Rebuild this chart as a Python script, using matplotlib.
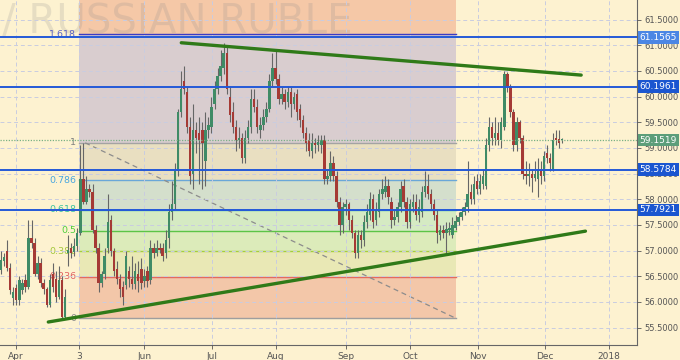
import numpy as np
import matplotlib
matplotlib.use("agg")
import matplotlib.pyplot as plt
import matplotlib.transforms as mtransforms

# daily USD/RUB candles, one per trading day (x = candle index)
opens = [
    56.62, 56.80, 57.00, 56.66, 56.08, 56.27, 56.04, 56.23, 56.43, 56.30,
    57.25, 57.15, 56.55, 56.75, 56.37, 56.25, 55.95, 56.55, 56.45, 56.10,
    56.43, 55.70, 56.95, 57.05, 56.98, 57.10, 57.35, 58.40, 57.95, 58.20,
    58.15, 57.40, 57.05, 56.37, 56.55, 57.05, 57.60, 57.00, 56.65, 56.45,
    56.30, 56.33, 56.60, 56.45, 56.35, 56.55, 56.65, 56.40, 56.60, 56.42,
    57.05, 56.95, 57.05, 57.05, 56.95, 57.25, 57.75, 57.90, 58.55, 59.70,
    60.30, 60.10, 59.40, 58.50, 59.35, 59.30, 59.35, 58.75, 59.35, 59.40,
    59.85, 60.15, 60.40, 60.55, 60.85, 60.00, 59.70, 59.40, 59.15, 59.20,
    58.80, 59.20, 59.40, 59.95, 59.80, 59.35, 59.45, 59.60, 59.75, 60.30,
    60.55, 60.35, 59.95, 60.05, 59.90, 60.10, 59.85, 60.05, 59.75, 59.55,
    59.30, 59.15, 58.95, 59.10, 59.05, 59.05, 59.15, 58.40, 58.45, 58.70,
    58.45, 57.95, 57.50, 57.85, 57.90, 57.60, 57.35, 56.95, 57.30, 57.20,
    57.55, 57.70, 58.00, 57.60, 57.75, 58.10, 58.15, 58.25, 57.95, 57.60,
    57.65, 57.85, 58.25, 57.95, 57.55, 57.85, 57.95, 57.70, 57.75, 58.15,
    58.25, 58.10, 57.90, 57.70, 57.30, 57.40, 57.35, 57.40, 57.30, 57.45,
    57.55, 57.65, 57.75, 57.85, 58.15, 58.00, 58.35, 58.20, 58.30, 58.25,
    59.05, 59.40, 59.20, 59.30, 59.15, 59.40, 60.45, 60.20, 59.70, 59.05,
    59.50, 59.20, 58.50, 58.45, 58.50, 58.42, 58.40, 58.60, 58.45, 58.90,
    58.80, 58.60, 59.20, 59.18, 59.15,
]
highs = [
    57.00, 56.95, 57.20, 56.75, 56.30, 56.35, 56.50, 56.45, 56.55, 57.60,
    57.60, 57.25, 56.90, 56.85, 56.45, 56.30, 56.55, 56.75, 56.60, 56.70,
    56.50, 56.25, 57.30, 57.15, 57.25, 57.45, 59.05, 59.10, 58.45, 58.30,
    58.30, 57.50, 57.15, 56.60, 57.05, 58.10, 57.70, 57.05, 56.80, 56.55,
    56.40, 57.00, 56.70, 56.90, 56.75, 56.80, 56.85, 56.65, 56.70, 57.20,
    57.15, 57.20, 57.15, 57.15, 57.40, 57.90, 58.35, 58.70, 59.75, 60.50,
    60.60, 60.20, 59.60, 59.85, 59.50, 59.60, 59.50, 59.70, 59.60, 60.00,
    60.30, 60.55, 60.90, 61.05, 61.00, 60.20, 59.90, 59.55, 59.40, 59.30,
    59.35, 59.55, 60.15, 60.15, 59.95, 59.60, 59.75, 59.90, 60.45, 60.85,
    60.90, 60.45, 60.20, 60.15, 60.20, 60.20, 60.10, 60.15, 59.85, 59.65,
    59.40, 59.30, 59.30, 59.20, 59.25, 59.25, 59.25, 58.60, 58.95, 58.85,
    58.55, 58.05, 57.95, 58.00, 57.95, 57.70, 57.40, 57.40, 57.40, 57.70,
    57.90, 58.15, 58.10, 57.95, 58.20, 58.40, 58.45, 58.40, 58.05, 57.80,
    57.95, 58.35, 58.40, 58.05, 58.00, 58.10, 58.10, 58.00, 58.25, 58.55,
    58.50, 58.20, 58.00, 57.80, 57.50, 57.50, 57.55, 57.55, 57.65, 57.70,
    57.75, 57.85, 57.95, 58.75, 58.30, 58.45, 58.50, 58.50, 58.60, 59.20,
    59.60, 59.50, 59.60, 59.50, 59.60, 60.50, 60.48, 60.25, 59.75, 59.60,
    59.55, 59.25, 58.75, 58.70, 58.60, 58.75, 58.80, 58.75, 58.95, 59.05,
    58.90, 59.30, 59.35, 59.35, 59.20,
]
lows = [
    56.55, 56.70, 56.60, 56.15, 55.95, 55.95, 55.95, 56.15, 56.20, 56.25,
    57.05, 56.50, 56.45, 56.30, 56.15, 55.90, 55.90, 56.20, 56.00, 56.05,
    55.65, 55.68, 56.70, 56.85, 56.90, 57.00, 57.30, 57.90, 57.90, 58.05,
    57.35, 56.95, 56.20, 56.30, 56.45, 56.95, 56.90, 56.50, 56.35, 56.10,
    55.95, 56.25, 56.30, 56.25, 56.25, 56.20, 56.25, 56.30, 56.30, 56.35,
    56.85, 56.90, 56.95, 56.80, 56.85, 57.05, 57.60, 57.80, 58.45, 59.60,
    60.05, 59.30, 58.30, 58.20, 58.90, 58.30, 58.20, 58.25, 59.20, 59.30,
    59.75, 60.05, 60.30, 60.45, 60.05, 59.50, 59.30, 58.95, 59.00, 58.70,
    58.70, 59.10, 59.30, 59.70, 59.30, 59.20, 59.35, 59.50, 59.70, 60.20,
    60.25, 59.85, 59.85, 59.75, 59.80, 59.60, 59.75, 59.55, 59.40, 59.20,
    58.95, 58.85, 58.80, 58.90, 58.95, 58.90, 58.30, 58.30, 58.35, 58.35,
    57.85, 57.30, 57.35, 57.70, 57.40, 57.25, 56.85, 56.85, 57.05, 57.10,
    57.45, 57.60, 57.45, 57.50, 57.65, 58.00, 58.05, 57.90, 57.45, 57.50,
    57.55, 57.75, 57.85, 57.45, 57.45, 57.75, 57.60, 57.55, 57.65, 58.05,
    58.00, 57.80, 57.60, 57.15, 57.20, 57.25, 56.95, 57.30, 57.25, 57.40,
    57.50, 57.60, 57.70, 57.75, 57.90, 57.90, 58.10, 58.10, 58.20, 58.20,
    58.95, 59.05, 59.05, 59.05, 59.00, 59.35, 60.10, 59.60, 58.95, 58.95,
    59.10, 58.40, 58.30, 58.25, 58.15, 58.35, 58.05, 58.30, 58.35, 58.70,
    58.55, 58.55, 59.05, 59.00, 59.10,
]
closes = [
    56.82, 56.88, 56.66, 56.23, 56.20, 56.04, 56.43, 56.37, 56.30, 57.25,
    57.15, 56.55, 56.75, 56.37, 56.25, 55.95, 56.43, 56.30, 56.10, 56.43,
    55.70, 56.10, 57.02, 56.95, 57.10, 57.35, 58.40, 57.95, 58.20, 58.15,
    57.40, 57.05, 56.37, 56.55, 56.90, 57.55, 57.00, 56.60, 56.45, 56.25,
    56.10, 56.90, 56.45, 56.35, 56.60, 56.40, 56.37, 56.50, 56.40, 57.05,
    56.95, 57.05, 57.02, 56.90, 57.20, 57.75, 57.90, 58.55, 59.70, 60.15,
    60.15, 59.40, 58.45, 59.35, 59.20, 59.15, 59.10, 59.35, 59.45, 59.80,
    60.15, 60.40, 60.60, 60.85, 60.15, 59.65, 59.40, 59.15, 59.20, 58.80,
    59.20, 59.40, 59.95, 59.80, 59.40, 59.45, 59.60, 59.75, 60.30, 60.55,
    60.35, 59.95, 60.05, 59.90, 60.10, 59.85, 60.00, 59.70, 59.55, 59.30,
    59.10, 58.95, 59.10, 59.05, 59.12, 59.15, 58.40, 58.45, 58.70, 58.45,
    57.95, 57.50, 57.85, 57.90, 57.60, 57.35, 56.95, 57.30, 57.20, 57.55,
    57.75, 58.00, 57.55, 57.80, 58.10, 58.20, 58.25, 58.05, 57.60, 57.65,
    57.85, 58.20, 57.95, 57.55, 57.90, 57.95, 57.70, 57.85, 58.15, 58.25,
    58.10, 57.90, 57.70, 57.35, 57.40, 57.35, 57.42, 57.45, 57.50, 57.57,
    57.65, 57.75, 57.85, 58.10, 58.00, 58.30, 58.20, 58.35, 58.45, 59.05,
    59.40, 59.20, 59.30, 59.15, 59.50, 60.45, 60.20, 59.70, 59.05, 59.50,
    59.20, 58.50, 58.45, 58.50, 58.42, 58.50, 58.60, 58.45, 58.85, 58.80,
    58.70, 59.15, 59.15, 59.10, 59.1519,
]

month_labels = ["Apr", "3", "Jun", "Jul", "Aug", "Sep", "Oct", "Nov", "Dec", "2018"]
month_pos = [4.9, 25.6, 46.9, 69.2, 90.2, 113.1, 134.1, 156.4, 178.4, 199.3]

# fibonacci retracement drawn on the chart
fib_low, fib_high = 55.68, 59.10
fib_start, fib_end = 25.6, 149.2
fib_levels = [0, 0.236, 0.382, 0.5, 0.618, 0.786, 1, 1.618]
fib_names = ["0", "0.236", "0.382", "0.5", "0.618", "0.786", "1", "1.618"]

# horizontal levels with price tags
levels = [61.1565, 60.1961, 58.5784, 57.7921]
last_price = 59.1519

# trend lines (index, price)
upper_trend = [(59.1, 61.05), (190.2, 60.42)]
lower_trend = [(15.5, 55.61), (191.6, 57.38)]

# ----------------------------------------------------------------
bg = "#fdf2d0"
band_colors = ["#f3c7a9", "#e9e8b5", "#dcebba", "#d5eac3", "#d4dfcc", "#e9dfc1", "#d9cdcf"]
line_colors = ["#9e9e9e", "#e36a5f", "#a5cf3a", "#5cc447", "#3fc39b", "#6aa7d8", "#a3a3a3", "#3b3bc4"]
label_colors = ["#8a8a8a", "#e06060", "#a3c83a", "#4fcf3c", "#3dc39e", "#48a7e0", "#808080", "#5b63c4"]

fig = plt.figure(figsize=(6.8, 3.6), dpi=100)
fig.patch.set_facecolor(bg)
ax = fig.add_axes([0, 15 / 360, 637 / 680, 345 / 360])
ax.set_facecolor(bg)

x = np.arange(len(closes))
o = np.array(opens); h = np.array(highs); l = np.array(lows); c = np.array(closes)

ax.set_xlim(-0.33, 208.5)
ax.set_ylim(55.162, 61.883)

# fib bands
prices = [fib_low + f * (fib_high - fib_low) for f in fib_levels]
xs = [fib_start, fib_end]
for i in range(len(prices) - 1):
    ax.fill_between(xs, prices[i], prices[i + 1], color=band_colors[i], lw=0, zorder=1)
ax.fill_between(xs, prices[-1], 62.5, color="#f5c8a7", lw=0, zorder=1)
for p, lc, lab, tc in zip(prices, line_colors, fib_names, label_colors):
    ax.plot(xs, [p, p], color=lc, lw=1.0, zorder=2)
    ax.text(fib_start - 1.0, p, lab, color=tc, fontsize=6.8, ha="right", va="center", zorder=2)
ax.plot([fib_start + 2, fib_end], [fib_high, fib_low], color="#8c8c8c", lw=0.9,
        dashes=(4, 3), zorder=2)

# watermark
ax.text(352 / 637, 0.904, "U.S. DOLLAR / RUSSIAN RUBLE", transform=ax.transAxes,
        ha="right", va="baseline", fontsize=29, color="#8a8a8a", alpha=0.2, zorder=1.5)

ax.grid(True, color="#c9cce0", lw=0.7, dashes=(4, 3))
ax.set_axisbelow(False)
for gl in ax.get_xgridlines() + ax.get_ygridlines():
    gl.set_zorder(1.8)

# candles
up = c >= o
ax.vlines(x, l, h, color="#666666", lw=0.8, zorder=3)
body_lo = np.minimum(o, c)
body_h = np.maximum(np.abs(c - o), 0.025)
ax.bar(x[up], body_h[up], bottom=body_lo[up], width=0.8, color="#3f8b66", lw=0, zorder=4)
ax.bar(x[~up], body_h[~up], bottom=body_lo[~up], width=0.8, color="#a53a35", lw=0, zorder=4)

# levels
trans = mtransforms.blended_transform_factory(ax.transAxes, ax.transData)
box_cols = ["#4b86e4", "#1b56d0", "#1b56d0", "#1b56d0"]
for lv, bc in zip(levels, box_cols):
    ax.axhline(lv, color="#2459d8", lw=1.4, zorder=5)
    ax.text(1.004, lv, f"{lv:.4f}", transform=trans, ha="left", va="center",
            color="white", fontsize=6.5, clip_on=False, zorder=10,
            bbox=dict(boxstyle="square,pad=0.2", fc=bc, ec="none"))
ax.axhline(last_price, color="#78b184", lw=0.9, ls=(0, (1, 1.2)), zorder=5)
ax.text(1.004, last_price, f"{last_price:.4f}", transform=trans, ha="left", va="center",
        color="white", fontsize=6.5, clip_on=False, zorder=10,
        bbox=dict(boxstyle="square,pad=0.2", fc="#5c9e7a", ec="none"))

# trend lines
for tl in (upper_trend, lower_trend):
    ax.plot([tl[0][0], tl[1][0]], [tl[0][1], tl[1][1]], color="#2f7a18", lw=2.4,
            solid_capstyle="round", zorder=6)

# axes
ax.yaxis.tick_right()
yt = np.arange(55.5, 61.51, 0.5)
ax.set_yticks(yt)
ax.set_yticklabels([f"{v:.4f}" for v in yt])
ax.set_xticks(month_pos)
ax.set_xticklabels(month_labels)
ax.tick_params(axis="x", labelsize=6.5, colors="#555555", length=3, width=0.6, pad=2)
ax.tick_params(axis="y", labelsize=6.0, colors="#555555", length=3, width=0.6, pad=2)
for s in ["top", "left"]:
    ax.spines[s].set_visible(False)
for s in ["right", "bottom"]:
    ax.spines[s].set_color("#666666")
    ax.spines[s].set_linewidth(0.8)

fig.savefig("out.png", dpi=100, facecolor=bg)
